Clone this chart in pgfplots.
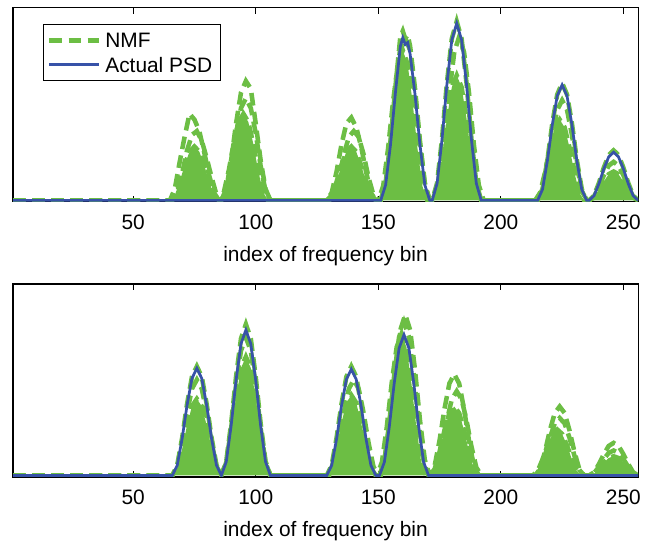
\documentclass[border=0pt]{standalone}
\usepackage{pgfplots}
\pgfplotsset{compat=1.18}
\usepackage{fontspec}
\setmainfont{Liberation Sans}
\definecolor{nmfgreen}{RGB}{108,190,68}
\definecolor{psdblue}{RGB}{55,82,168}
\begin{document}
\fontsize{11.5}{13.8}\selectfont
\begin{tikzpicture}
\useasboundingbox (0,0) rectangle (360pt,298.35pt);
\pgfplotsset{
 psdax/.style={scale only axis, width=344.1pt, xmin=1, xmax=256, ymin=-0.008, ymax=1,
  xtick={50,100,150,200,250}, ytick=\empty, tick align=inside, major tick length=3.5pt,
  axis line style={line width=0.6pt}, every tick/.style={line width=0.6pt, black},
  xlabel={index of frequency bin},
  /pgf/number format/assume math mode=true,
  font=\fontsize{11.5}{13.8}\selectfont,
  tick label style={font=\fontsize{11.5}{13.8}\selectfont},
  label style={font=\fontsize{11.5}{13.8}\selectfont},
  xticklabel style={yshift=-3pt},
  xlabel style={yshift=-1.6pt}},
 nmf/.style={color=nmfgreen, line width=2.5pt, dash pattern=on 7pt off 3.5pt},
 nmffill/.style={draw=none, fill=nmfgreen},
 psd/.style={color=psdblue, line width=1.5pt}
}
% ---------------- top panel ----------------
\begin{axis}[psdax, height=106.8pt, at={(7.16pt,187.2pt)}, anchor=south west,
  legend style={at={(axis description cs:0.048,0.918)}, anchor=north west, draw=black, line width=0.6pt,
    inner sep=2pt, nodes={text depth=0pt, text height=8.5pt, inner sep=2.5pt},
    font=\fontsize{11.5}{13.8}\selectfont},
  legend cell align=left,
  legend image code/.code={\draw[#1] (0pt,0pt) -- (27pt,0pt);}]
\addlegendimage{nmf}
\addlegendentry{NMF}
\addlegendimage{psd}
\addlegendentry{Actual PSD}
% g3 (fill + dashed)
\addplot[nmffill, forget plot] coordinates {
(1,0) (65,0) (67,.027) (69,.097) (71,.183) (73,.253) (75,.28) (77,.253) (79,.183) (81,.097) (83,.027) (85,0)
(87,.043) (89,.155) (91,.295) (93,.407) (95,.45) (97,.407) (99,.295) (101,.155) (103,.043) (105,0)
(129,0) (131,.027) (133,.097) (135,.183) (137,.253) (139,.28) (141,.253) (143,.183) (145,.097) (147,.027) (149,0)
(150,0) (152,.074) (154,.269) (156,.511) (158,.706) (160,.78) (162,.706) (164,.511) (166,.269) (168,.074) (170,0)
(172,0) (174,.062) (176,.224) (178,.426) (180,.588) (182,.65) (184,.588) (186,.426) (188,.224) (190,.062) (192,0)
(214,0) (216,.04) (218,.145) (220,.275) (222,.38) (224,.42) (226,.38) (228,.275) (230,.145) (232,.04) (234,0)
(236,0) (238,.014) (240,.052) (242,.098) (244,.136) (246,.15) (248,.136) (250,.098) (252,.052) (254,.014) (256,0)
} \closedcycle;
\addplot[nmf, forget plot] coordinates {
(1,0) (65,0) (67,.027) (69,.097) (71,.183) (73,.253) (75,.28) (77,.253) (79,.183) (81,.097) (83,.027) (85,0)
(87,.043) (89,.155) (91,.295) (93,.407) (95,.45) (97,.407) (99,.295) (101,.155) (103,.043) (105,0)
(129,0) (131,.027) (133,.097) (135,.183) (137,.253) (139,.28) (141,.253) (143,.183) (145,.097) (147,.027) (149,0)
(150,0) (152,.074) (154,.269) (156,.511) (158,.706) (160,.78) (162,.706) (164,.511) (166,.269) (168,.074) (170,0)
(172,0) (174,.062) (176,.224) (178,.426) (180,.588) (182,.65) (184,.588) (186,.426) (188,.224) (190,.062) (192,0)
(214,0) (216,.04) (218,.145) (220,.275) (222,.38) (224,.42) (226,.38) (228,.275) (230,.145) (232,.04) (234,0)
(236,0) (238,.014) (240,.052) (242,.098) (244,.136) (246,.15) (248,.136) (250,.098) (252,.052) (254,.014) (256,0)
};
% g2
\addplot[nmf, forget plot] coordinates {
(1,0) (66,0) (68,.04) (70,.14) (72,.26) (74,.34) (76,.36) (78,.31) (80,.22) (82,.12) (84,.03) (86,0)
(88,.05) (90,.18) (92,.35) (94,.48) (96,.53) (98,.48) (100,.35) (102,.18) (104,.05) (106,0)
(130,0) (132,.03) (134,.12) (136,.24) (138,.33) (140,.36) (142,.33) (144,.24) (146,.12) (148,.03) (150,0)
(151,0) (153,.08) (155,.29) (157,.56) (159,.80) (161,.84) (163,.78) (165,.55) (167,.29) (169,.08) (171,0)
(173,0) (175,.08) (177,.29) (179,.56) (181,.77) (183,.85) (185,.77) (187,.56) (189,.29) (191,.08) (193,0)
(215,0) (217,.05) (219,.18) (221,.34) (223,.47) (225,.52) (227,.47) (229,.34) (231,.18) (233,.05) (235,0)
(236,0) (238,.02) (240,.07) (242,.13) (244,.18) (246,.20) (248,.18) (250,.13) (252,.07) (254,.02) (256,0)
};
% g1
\addplot[nmf, forget plot] coordinates {
(1,0) (65,0) (67,.06) (69,.2) (71,.33) (73,.45) (75,.42) (77,.36) (79,.25) (81,.13) (83,.04) (85,0)
(86,0) (88,.06) (90,.21) (92,.40) (94,.56) (96,.62) (98,.58) (100,.40) (102,.21) (104,.06) (106,0)
(129,0) (131,.04) (133,.15) (135,.29) (137,.40) (139,.43) (141,.38) (143,.28) (145,.15) (147,.04) (149,0)
(151,0) (153,.09) (155,.31) (157,.59) (159,.85) (160,.88) (161,.84) (162,.86) (163,.80) (165,.58) (167,.31) (169,.09) (171,0)
(172,0) (174,.09) (176,.32) (178,.61) (180,.84) (182,.93) (184,.84) (186,.61) (188,.32) (190,.09) (192,0)
(215,0) (217,.06) (219,.21) (221,.40) (223,.55) (225,.61) (227,.55) (229,.40) (231,.21) (233,.06) (235,0)
(236,0) (238,.025) (240,.09) (242,.17) (244,.235) (246,.26) (248,.235) (250,.17) (252,.09) (254,.025) (256,0)
};
% actual PSD
\addplot[psd, forget plot] coordinates {
(1,0) (151,0) (153,.08) (155,.29) (157,.56) (159,.80) (160,.845) (161,.81) (162,.82) (163,.76) (165,.55) (167,.29) (169,.08) (171,0)
(172,0) (174,.088) (176,.317) (178,.603) (180,.833) (182,.92) (184,.833) (186,.603) (188,.317) (190,.088) (192,0)
(215,0) (217,.057) (219,.207) (221,.393) (223,.543) (225,.60) (227,.543) (229,.393) (231,.207) (233,.057) (235,0)
(236,0) (238,.024) (240,.086) (242,.164) (244,.226) (246,.25) (248,.226) (250,.164) (252,.086) (254,.024) (256,0)
};
\end{axis}
% ---------------- bottom panel ----------------
\begin{axis}[psdax, height=106.2pt, at={(7.16pt,35.8pt)}, anchor=south west]
\addplot[nmffill, forget plot] coordinates {
(1,0) (66,0) (68,.038) (70,.138) (72,.262) (74,.362) (76,.4) (78,.362) (80,.262) (82,.138) (84,.038) (86,0)
(88,.059) (90,.214) (92,.406) (94,.561) (96,.62) (98,.561) (100,.406) (102,.214) (104,.059) (106,0)
(129,0) (131,.040) (133,.145) (135,.275) (137,.380) (139,.42) (141,.380) (143,.275) (145,.145) (147,.040) (149,0)
(149.5,0) (151.5,.070) (153.5,.255) (155.5,.485) (157.5,.670) (159.5,.74) (161.5,.670) (163.5,.485) (165.5,.255) (167.5,.070) (169.5,0)
(171,0) (173,.034) (175,.124) (177,.236) (179,.326) (181,.36) (183,.326) (185,.236) (187,.124) (189,.034) (191,0)
(213,0) (215,.023) (217,.083) (219,.157) (221,.217) (223,.24) (225,.217) (227,.157) (229,.083) (231,.023) (233,0)
(236,0) (238,.010) (240,.035) (242,.066) (244,.091) (246,.1) (248,.091) (250,.066) (252,.035) (254,.010) (256,0)
} \closedcycle;
\addplot[nmf, forget plot] coordinates {
(1,0) (66,0) (68,.038) (70,.138) (72,.262) (74,.362) (76,.4) (78,.362) (80,.262) (82,.138) (84,.038) (86,0)
(88,.059) (90,.214) (92,.406) (94,.561) (96,.62) (98,.561) (100,.406) (102,.214) (104,.059) (106,0)
(129,0) (131,.040) (133,.145) (135,.275) (137,.380) (139,.42) (141,.380) (143,.275) (145,.145) (147,.040) (149,0)
(149.5,0) (151.5,.070) (153.5,.255) (155.5,.485) (157.5,.670) (159.5,.74) (161.5,.670) (163.5,.485) (165.5,.255) (167.5,.070) (169.5,0)
(171,0) (173,.034) (175,.124) (177,.236) (179,.326) (181,.36) (183,.326) (185,.236) (187,.124) (189,.034) (191,0)
(213,0) (215,.023) (217,.083) (219,.157) (221,.217) (223,.24) (225,.217) (227,.157) (229,.083) (231,.023) (233,0)
(236,0) (238,.010) (240,.035) (242,.066) (244,.091) (246,.1) (248,.091) (250,.066) (252,.035) (254,.010) (256,0)
};
\addplot[nmf, forget plot] coordinates {
(1,0) (66,0) (68,.048) (70,.173) (72,.328) (74,.453) (76,.5) (78,.453) (80,.328) (82,.173) (84,.048) (86,0)
(88,.068) (90,.248) (92,.472) (94,.652) (96,.72) (98,.652) (100,.472) (102,.248) (104,.068) (106,0)
(130,0) (132,.048) (134,.173) (136,.328) (138,.453) (140,.5) (142,.453) (144,.328) (146,.173) (148,.048) (150,0)
(150.5,0) (152.5,.076) (154.5,.276) (156.5,.524) (158.5,.724) (160.5,.8) (162.5,.724) (164.5,.524) (166.5,.276) (168.5,.076) (170.5,0)
(172,0) (174,.042) (176,.152) (178,.288) (180,.398) (182,.44) (184,.398) (186,.288) (188,.152) (190,.042) (192,0)
(214,0) (216,.029) (218,.104) (220,.197) (222,.272) (224,.3) (226,.272) (228,.197) (230,.104) (232,.029) (234,0)
(236,0) (238,.012) (240,.045) (242,.085) (244,.118) (246,.13) (248,.118) (250,.085) (252,.045) (254,.012) (256,0)
};
\addplot[nmf, forget plot] coordinates {
(1,0) (66,0) (68,.054) (70,.197) (72,.373) (74,.516) (76,.57) (78,.516) (80,.373) (82,.197) (84,.054) (86,0)
(88,.075) (90,.273) (92,.517) (94,.715) (96,.79) (98,.715) (100,.517) (102,.273) (104,.075) (106,0)
(129,0) (131,.054) (133,.197) (135,.373) (137,.516) (139,.57) (141,.516) (143,.373) (145,.197) (147,.054) (149,0)
(151,0) (153,.080) (155,.290) (157,.550) (159,.760) (161,.84) (163,.760) (165,.550) (167,.290) (169,.080) (171,0)
(173,.050) (175,.183) (177,.347) (179,.480) (181,.53) (183,.480) (185,.347) (187,.183) (189,.050) (191,0)
(214,0) (216,.034) (218,.124) (220,.236) (222,.326) (224,.36) (226,.326) (228,.236) (230,.124) (232,.034) (234,0)
(236,0) (238,.016) (240,.059) (242,.111) (244,.154) (246,.17) (248,.154) (250,.111) (252,.059) (254,.016) (256,0)
};
\addplot[psd, forget plot] coordinates {
(1,0) (66,0) (68,.053) (70,.193) (72,.367) (74,.507) (76,.56) (78,.507) (80,.367) (82,.193) (84,.053) (86,0)
(88,.072) (90,.262) (92,.498) (94,.688) (96,.76) (98,.688) (100,.498) (102,.262) (104,.072) (106,0)
(129,0) (131,.053) (133,.191) (135,.364) (137,.502) (139,.555) (141,.502) (143,.364) (145,.191) (147,.053) (149,0)
(150.5,0) (152.5,.07) (154.5,.254) (156.5,.481) (158.5,.665) (160.5,.735) (162.5,.665) (164.5,.481) (166.5,.254) (168.5,.07) (170.5,0)
(256,0)
};
\end{axis}
\end{tikzpicture}
\end{document}
